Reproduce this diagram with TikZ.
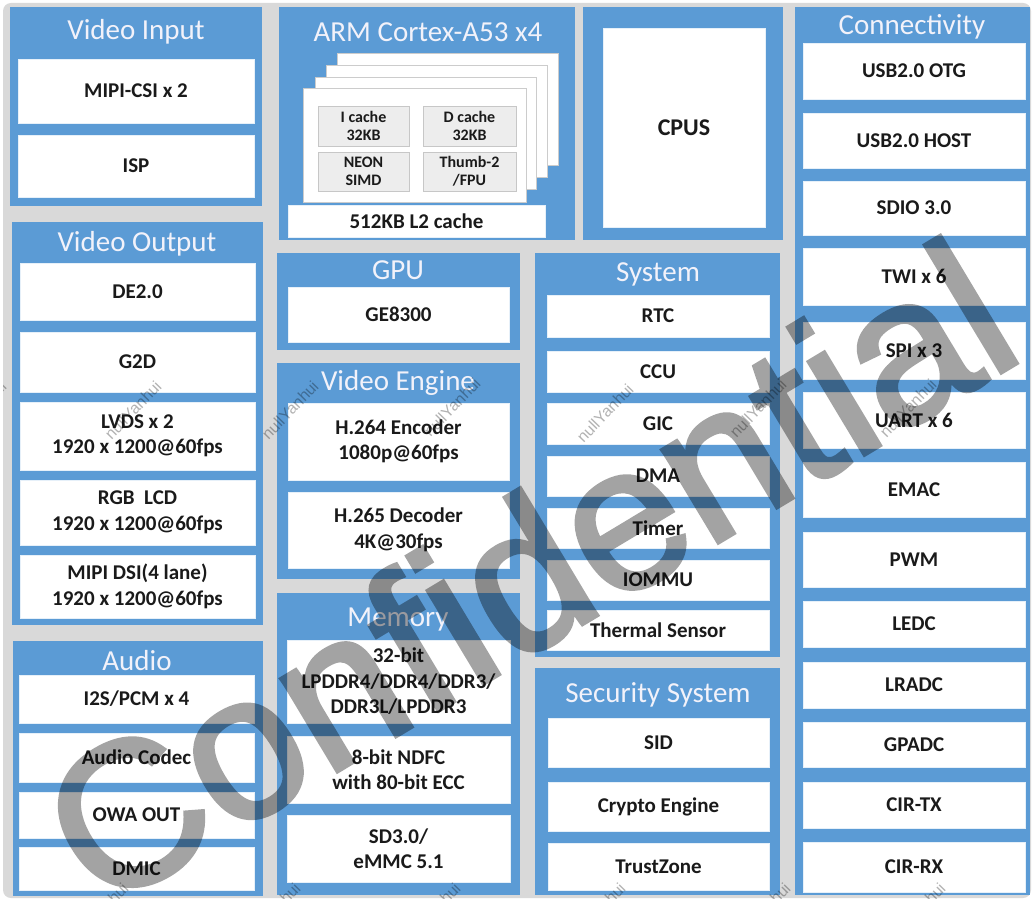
\documentclass[tikz,border=0pt]{standalone}
\usepackage{fontspec}
\setmainfont{Carlito}
\newfontfamily\wmfont{Liberation Sans}[FakeBold=2]
\newfontfamily\wmsmfont{Liberation Sans}
\definecolor{pblue}{HTML}{5B9BD5}
\definecolor{bggray}{HTML}{D9D9D9}
\definecolor{ttl}{HTML}{F2F2FA}
\definecolor{txt}{HTML}{1A1A1A}
\tikzset{
  panel/.style={fill=pblue,draw=none,inner sep=0pt,outer sep=0pt},
  wboxst/.style={fill=white,draw=white!85!pblue,line width=0.6pt,inner sep=0pt,outer sep=0pt,
     text=txt,align=center,font=\bfseries\fontsize{21}{25.5}\selectfont},
  ttlst/.style={text=ttl,inner sep=0pt,font=\fontsize{29}{32}\selectfont},
  gboxst/.style={fill=black!7,draw=black!22,line width=0.6pt,inner sep=0pt,text=txt,align=center,
     font=\bfseries\fontsize{16}{18.5}\selectfont},
  cardst/.style={fill=white,draw=black!20,line width=0.6pt,inner sep=0pt},
  wmst/.style={text=black,font=\wmfont\fontsize{205}{205}\selectfont,inner sep=0pt},
  wmsm/.style={text=black,opacity=0.3,font=\wmsmfont\fontsize{16}{16}\selectfont,inner sep=0pt,rotate=46}
}
% name, x1, y1, x2, y2, style, text
\newcommand{\bx}[7]{\node[#6,minimum width={(#4-#2)*1pt},minimum height={(#5-#3)*1pt}] (#1) at ({(#2+#4)/2},{(#3+#5)/2}) {#7};}
\begin{document}
\begin{tikzpicture}[x=1pt,y=-1pt]
\useasboundingbox (0,0) rectangle (1035,901);
\fill[bggray,rounded corners=8pt] (3,3) rectangle (1031,898);
% ---------- Video Input
\bx{vin}{10}{7}{262}{206}{panel}{}
\node[ttlst] (vint) at (136,32) {Video Input};
\bx{csi}{18}{59}{254}{123}{wboxst}{MIPI-CSI x 2}
\bx{isp}{18}{135}{254}{197}{wboxst}{ISP}
% ---------- ARM
\bx{arm}{279}{7}{575}{240}{panel}{}
\node[ttlst] (armt) at (428,32) {ARM Cortex-A53 x4};
\bx{card4}{337}{53}{558}{165}{cardst}{}
\bx{card3}{326}{65}{547}{177}{cardst}{}
\bx{card2}{315}{77}{536}{189}{cardst}{}
\bx{card1}{303}{88}{526}{202}{cardst}{}
\bx{icache}{318}{106}{409}{146}{gboxst}{I cache\\32KB}
\bx{dcache}{423}{106}{516}{146}{gboxst}{D cache\\32KB}
\bx{neon}{318}{152}{409}{191}{gboxst}{NEON\\SIMD}
\bx{thumb}{423}{152}{516}{191}{gboxst}{Thumb-2\\/FPU}
\bx{ltwo}{288}{205}{545}{237}{wboxst}{512KB L2 cache}
% ---------- CPUS
\bx{cpusp}{583}{7}{783}{240}{panel}{}
\bx{cpus}{603}{28}{765}{227}{wboxst}{\fontsize{24}{28}\selectfont CPUS}
% ---------- Connectivity
\bx{conn}{795}{7}{1030}{895}{panel}{}
\node[ttlst] (connt) at (912,27) {Connectivity};
\bx{c1}{803}{43}{1025}{99}{wboxst}{USB2.0 OTG}
\bx{c2}{803}{113}{1025}{168}{wboxst}{USB2.0 HOST}
\bx{c3}{803}{181}{1025}{235}{wboxst}{SDIO 3.0}
\bx{c4}{803}{248}{1025}{305}{wboxst}{TWI x 6}
\bx{c5}{803}{322}{1025}{379}{wboxst}{SPI x 3}
\bx{c6}{803}{392}{1025}{448}{wboxst}{UART x 6}
\bx{c7}{803}{462}{1025}{517}{wboxst}{EMAC}
\bx{c8}{803}{532}{1025}{587}{wboxst}{PWM}
\bx{c9}{803}{601}{1025}{647}{wboxst}{LEDC}
\bx{c10}{803}{662}{1025}{708}{wboxst}{LRADC}
\bx{c11}{803}{722}{1025}{767}{wboxst}{GPADC}
\bx{c12}{803}{782}{1025}{828}{wboxst}{CIR-TX}
\bx{c13}{803}{842}{1025}{892}{wboxst}{CIR-RX}
% ---------- Video Output
\bx{vout}{12}{222}{263}{625}{panel}{}
\node[ttlst] (voutt) at (137,244) {Video Output};
\bx{de}{20}{263}{255}{320}{wboxst}{DE2.0}
\bx{gtd}{20}{332}{255}{392}{wboxst}{G2D}
\bx{lvds}{20}{402}{255}{470}{wboxst}{LVDS x 2\\1920 x 1200@60fps}
\bx{rgb}{20}{480}{255}{545}{wboxst}{RGB\ \ LCD\\1920 x 1200@60fps}
\bx{dsi}{20}{555}{255}{618}{wboxst}{MIPI DSI(4 lane)\\1920 x 1200@60fps}
% ---------- Audio
\bx{aud}{13}{641}{263}{896}{panel}{}
\node[ttlst] (audt) at (137,661) {Audio};
\bx{i2s}{19}{675}{254}{723}{wboxst}{I2S/PCM x 4}
\bx{codec}{19}{733}{254}{782}{wboxst}{Audio Codec}
\bx{owa}{19}{792}{254}{838}{wboxst}{OWA OUT}
\bx{dmic}{19}{847}{254}{890}{wboxst}{DMIC}
% ---------- GPU
\bx{gpu}{277}{253}{520}{350}{panel}{}
\node[ttlst] (gput) at (398,270) {GPU};
\bx{ge}{288}{287}{509}{342}{wboxst}{GE8300}
% ---------- Video Engine
\bx{ve}{277}{363}{520}{579}{panel}{}
\node[ttlst] (vet) at (398,383) {Video Engine};
\bx{enc}{288}{403}{509}{480}{wboxst}{H.264 Encoder\\1080p@60fps}
\bx{dec}{288}{492}{509}{568}{wboxst}{H.265 Decoder\\4K@30fps}
% ---------- Memory
\bx{mem}{277}{593}{520}{895}{panel}{}
\node[ttlst] (memt) at (398,620) {Memory};
\bx{ddr}{287}{640}{510}{723}{wboxst}{32-bit\\LPDDR4/DDR4/DDR3/\\DDR3L/LPDDR3}
\bx{ndfc}{287}{736}{510}{803}{wboxst}{8-bit NDFC\\with 80-bit ECC}
\bx{sd}{287}{815}{510}{882}{wboxst}{SD3.0/\\eMMC 5.1}
% ---------- System
\bx{sys}{535}{253}{780}{657}{panel}{}
\node[ttlst] (syst) at (658,274) {System};
\bx{rtc}{547}{295}{769}{337}{wboxst}{RTC}
\bx{ccu}{547}{351}{769}{392}{wboxst}{CCU}
\bx{gic}{547}{403}{769}{444}{wboxst}{GIC}
\bx{dma}{547}{456}{769}{496}{wboxst}{DMA}
\bx{tmr}{547}{508}{769}{548}{wboxst}{Timer}
\bx{iommu}{547}{560}{769}{600}{wboxst}{IOMMU}
\bx{therm}{547}{610}{769}{650}{wboxst}{Thermal Sensor}
% ---------- Security
\bx{sec}{535}{668}{780}{895}{panel}{}
\node[ttlst] (sect) at (658,695) {Security System};
\bx{sid}{548}{718}{769}{767}{wboxst}{SID}
\bx{crypto}{548}{782}{769}{831}{wboxst}{Crypto Engine}
\bx{tz}{548}{843}{769}{890}{wboxst}{TrustZone}
% ---------- watermarks
\begin{scope}
\clip[rounded corners=8pt] (3,3) rectangle (1031,898);
\begin{scope}[transparency group,opacity=0.36]
\node[wmst,rotate=31] (wm) at (527,572) {Confidential};
\end{scope}
\node[wmsm] (w0) at (-22,410) {nullYanhui};
\node[wmsm] (w1) at (133,410) {nullYanhui};
\node[wmsm] (w2) at (290,410) {nullYanhui};
\node[wmsm] (w3) at (452,407) {nullYanhui};
\node[wmsm] (w4) at (605,413) {nullYanhui};
\node[wmsm] (w5) at (758,408) {nullYanhui};
\node[wmsm] (w6) at (908,408) {nullYanhui};
\node[wmsm] (w7) at (100,912) {nullYanhui};
\node[wmsm] (w8) at (272,912) {nullYanhui};
\node[wmsm] (w9) at (432,912) {nullYanhui};
\node[wmsm] (w10) at (597,912) {nullYanhui};
\node[wmsm] (w11) at (762,912) {nullYanhui};
\node[wmsm] (w12) at (917,912) {nullYanhui};
\end{scope}
\end{tikzpicture}
\end{document}
